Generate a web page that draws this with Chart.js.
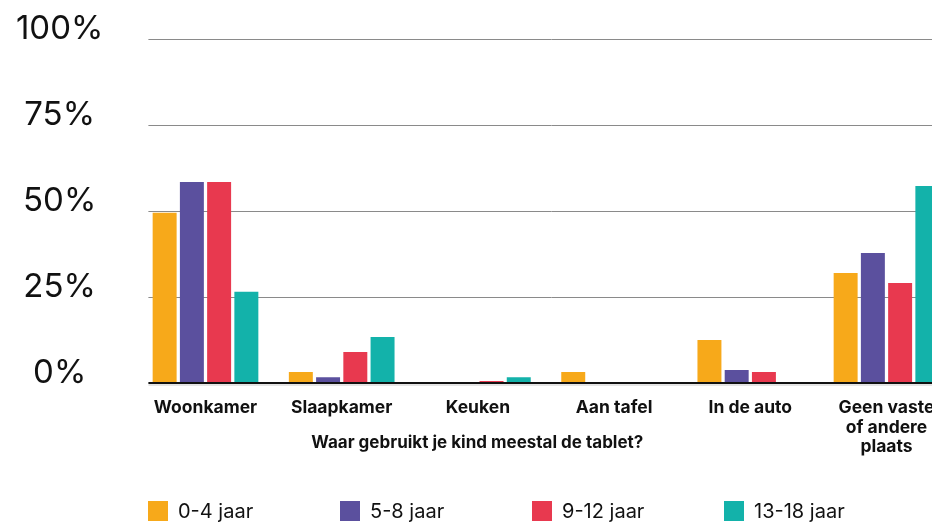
<!DOCTYPE html>
<html>
<head>
<meta charset="utf-8">
<script src="https://cdn.jsdelivr.net/npm/chart.js@4/dist/chart.umd.min.js"></script>
<style>
  html, body { margin: 0; padding: 0; background: #fff; overflow: hidden; }
  #wrap { position: relative; width: 957px; height: 524px; }
  #legend { position: absolute; left: 148px; top: 501px; display: flex; font-family: Inter, sans-serif; font-size: 20px; color: #111; }
  .item { width: 192px; display: flex; align-items: center; height: 20px; white-space: nowrap; }
  .box { width: 20px; height: 20px; margin-right: 10px; flex: none; }
</style>
</head>
<body>
<div id="wrap">
  <canvas id="c" width="957" height="524"></canvas>
  <div id="legend"></div>
</div>
<script>
// ---- data ----
const categories = ['Woonkamer', 'Slaapkamer', 'Keuken', 'Aan tafel', 'In de auto', ['Geen vaste', 'of andere', 'plaats']];
const seriesNames = ['0-4 jaar', '5-8 jaar', '9-12 jaar', '13-18 jaar'];
const age0_4   = [49.5, 3.2, 0,   3.2, 12.5, 32.0];
const age5_8   = [58.4, 1.7, 0,   0,   3.8,  37.8];
const age9_12  = [58.4, 9.0, 0.6, 0,   3.2,  29.1];
const age13_18 = [26.5, 13.4, 1.7, 0,  0,    57.3];
const yTicks = [0, 25, 50, 75, 100];
const xTitle = 'Waar gebruikt je kind meestal de tablet?';

const colors = ['#F7A91A', '#5B509E', '#E8394F', '#13B2AA'];
const seriesValues = [age0_4, age5_8, age9_12, age13_18];

const gridPlugin = {
  id: 'customGrid',
  beforeDatasetsDraw(chart) {
    const {ctx, chartArea} = chart;
    const y = chart.scales.y;
    const x0 = chartArea.left + 11;
    ctx.save();
    ctx.strokeStyle = '#8a8a8a';
    ctx.lineWidth = 1;
    yTicks.forEach(v => {
      if (v === 0) return;
      const py = Math.round(y.getPixelForValue(v)) + 0.5;
      ctx.beginPath();
      ctx.moveTo(x0, py);
      ctx.lineTo(chartArea.right, py);
      ctx.stroke();
    });
    ctx.restore();
  },
  afterDatasetsDraw(chart) {
    const {ctx, chartArea} = chart;
    const y = chart.scales.y;
    const x0 = chartArea.left + 11;
    const py = Math.round(y.getPixelForValue(0));
    ctx.save();
    ctx.fillStyle = '#e4e4e4';
    ctx.fillRect(x0, py + 1, chartArea.right - x0, 2);
    ctx.fillStyle = '#111';
    ctx.fillRect(x0, py - 1, chartArea.right - x0, 2);
    ctx.restore();
  }
};

const chart = new Chart(document.getElementById('c'), {
  type: 'bar',
  data: {
    labels: categories,
    datasets: seriesNames.map((n, i) => ({
      label: n,
      data: seriesValues[i],
      backgroundColor: colors[i],
      borderWidth: 0,
      categoryPercentage: 0.8,
      barPercentage: 0.88
    }))
  },
  options: {
    responsive: false,
    animation: false,
    layout: { padding: { top: 39, right: 2.4, left: 0, bottom: 0 } },
    plugins: {
      legend: { display: false },
      tooltip: { enabled: false },
      title: {
        display: true,
        text: xTitle,
        position: 'bottom',
        color: '#111',
        font: { family: 'Inter', size: 17, weight: 'bold', lineHeight: 1.2 },
        padding: { top: -26.2, bottom: 70.8 }
      }
    },
    scales: {
      x: {
        grid: { display: false, drawTicks: false },
        border: { display: false },
        ticks: {
          color: '#111',
          padding: 15,
          maxRotation: 0,
          autoSkip: false,
          font: { family: 'Inter', size: 17.5, weight: 'bold', lineHeight: 1.12 }
        },
        afterFit(s) { s.height = 76; }
      },
      y: {
        min: 0,
        max: 100,
        afterBuildTicks(s) { s.ticks = yTicks.map(v => ({ value: v })); },
        grid: { display: false, drawTicks: false },
        border: { display: false },
        ticks: {
          color: '#111',
          crossAlign: 'center',
          padding: 34,
          labelOffset: -10,
          font: { family: 'Inter', size: 33, weight: 'normal' },
          callback: v => v + '%'
        },
        afterFit(s) { s.width = 137.4; s.paddingTop = 0; s.paddingBottom = 0; }
      }
    }
  },
  plugins: [gridPlugin]
});

// HTML legend built from the chart's datasets
const legend = document.getElementById('legend');
chart.data.datasets.forEach(ds => {
  const it = document.createElement('div');
  it.className = 'item';
  const b = document.createElement('span');
  b.className = 'box';
  b.style.background = ds.backgroundColor;
  const t = document.createElement('span');
  t.textContent = ds.label;
  it.appendChild(b); it.appendChild(t);
  legend.appendChild(it);
});
</script>
</body>
</html>
